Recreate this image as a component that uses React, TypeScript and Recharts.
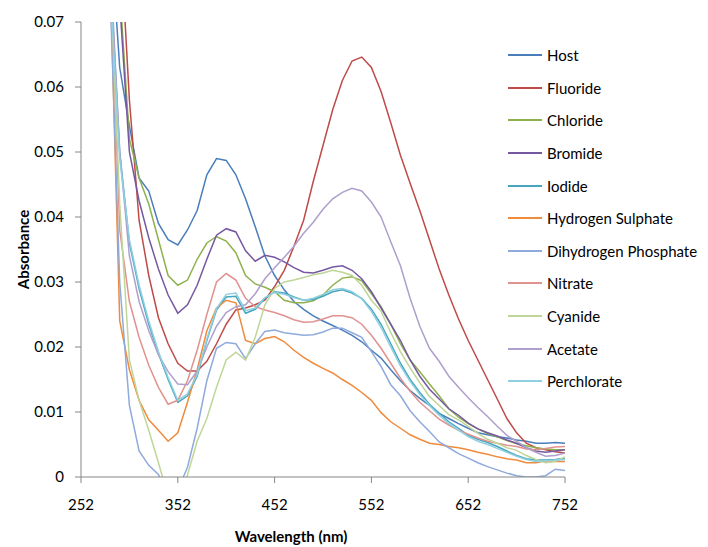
import React from "react";
import { LineChart, Line, XAxis, YAxis, Label } from "recharts";

const wavelengths = [
  272, 282, 292, 302, 312, 322, 332, 342, 352, 362, 372, 382, 392, 402, 412, 422, 432, 442, 452, 462, 472, 482, 492,
  502, 512, 522, 532, 542, 552, 562, 572, 582, 592, 602, 612, 622, 632, 642, 652, 662, 672, 682, 692, 702, 712, 722,
  732, 742, 752,
];

const host = [
  0.11, 0.085, 0.063, 0.054, 0.046, 0.044, 0.039, 0.0365, 0.0357, 0.038, 0.041, 0.0465, 0.049, 0.0487, 0.0465, 0.0428,
  0.0385, 0.034, 0.031, 0.0288, 0.027, 0.0258, 0.0248, 0.024, 0.0233, 0.0226, 0.0218, 0.0208, 0.0195, 0.0183, 0.0165,
  0.0148, 0.0133, 0.0121, 0.011, 0.0098, 0.009, 0.0082, 0.0075, 0.0068, 0.0065, 0.0062, 0.006, 0.0057, 0.0055, 0.0052,
  0.0052, 0.0053, 0.0052,
];
const fluoride = [
  0.12, 0.1, 0.085, 0.058, 0.0395, 0.031, 0.0245, 0.0205, 0.0175, 0.0163, 0.0163, 0.0178, 0.0205, 0.0235, 0.0257, 0.026,
  0.0265, 0.0272, 0.0293, 0.0318, 0.0355, 0.0395, 0.0455, 0.051, 0.0565, 0.061, 0.064, 0.0646, 0.063, 0.0593, 0.0545,
  0.0495, 0.0452, 0.041, 0.0365, 0.032, 0.028, 0.0243, 0.021, 0.018, 0.015, 0.012, 0.009, 0.0068, 0.0052, 0.0045,
  0.0042, 0.0039, 0.0037,
];
const chloride = [
  0.11, 0.09, 0.075, 0.052, 0.046, 0.042, 0.0365, 0.031, 0.0295, 0.0303, 0.0335, 0.036, 0.037, 0.0363, 0.0345, 0.031,
  0.0297, 0.0292, 0.0285, 0.0272, 0.0268, 0.0268, 0.0271, 0.028, 0.0295, 0.0306, 0.0308, 0.0302, 0.0282, 0.0262,
  0.0235, 0.0205, 0.018, 0.0162, 0.0143, 0.0125, 0.0105, 0.0092, 0.0082, 0.0074, 0.0067, 0.0062, 0.0056, 0.0051,
  0.0048, 0.0045, 0.0043, 0.0042, 0.0042,
];
const bromide = [
  0.11, 0.09, 0.073, 0.05, 0.0425, 0.0368, 0.032, 0.028, 0.0252, 0.0265, 0.0295, 0.0335, 0.0372, 0.0382, 0.0377, 0.0348,
  0.0332, 0.0341, 0.0338, 0.0331, 0.0322, 0.0315, 0.0314, 0.0318, 0.0323, 0.0325, 0.0318, 0.0305, 0.0285, 0.026,
  0.0235, 0.021, 0.018, 0.0155, 0.0135, 0.012, 0.0105, 0.0095, 0.0083, 0.0074, 0.0068, 0.0063, 0.0057, 0.0052, 0.0045,
  0.004, 0.0038, 0.004, 0.0042,
];
const iodide = [
  0.1, 0.078, 0.05, 0.036, 0.029, 0.0235, 0.019, 0.015, 0.0115, 0.0125, 0.0155, 0.021, 0.0257, 0.0277, 0.0278, 0.0252,
  0.0258, 0.0275, 0.0285, 0.0283, 0.0277, 0.0272, 0.0273, 0.0278, 0.0285, 0.0288, 0.0283, 0.0275, 0.0258, 0.0235,
  0.0205, 0.0175, 0.015, 0.013, 0.0112, 0.0098, 0.0085, 0.0075, 0.0064, 0.0058, 0.0053, 0.0047, 0.004, 0.0033, 0.0028,
  0.0026, 0.0026, 0.0027, 0.0029,
];
const hydrogenSulphate = [
  0.11, 0.078, 0.024, 0.0165, 0.0118, 0.0088, 0.0072, 0.0055, 0.0068, 0.0115, 0.0165, 0.0225, 0.026, 0.0272, 0.0268,
  0.021, 0.0205, 0.0213, 0.0216, 0.0208, 0.0195, 0.0184, 0.0175, 0.0167, 0.016, 0.015, 0.0141, 0.013, 0.0118, 0.0099,
  0.0085, 0.0075, 0.0065, 0.0058, 0.0052, 0.005, 0.0047, 0.0045, 0.0042, 0.0038, 0.0035, 0.0031, 0.0028, 0.0026,
  0.0022, 0.0022, 0.0025, 0.0024, 0.0024,
];
const dihydrogenPhosphate = [
  0.1, 0.075, 0.03, 0.011, 0.004, 0.0018, 0.0004, -0.003, -0.002, 0.0015, 0.0075, 0.0148, 0.0198, 0.0207, 0.0205,
  0.0182, 0.0205, 0.0224, 0.0226, 0.0222, 0.022, 0.0218, 0.0219, 0.0223, 0.0229, 0.0229, 0.0222, 0.0215, 0.0193, 0.017,
  0.0142, 0.0125, 0.0102, 0.0085, 0.007, 0.0054, 0.0045, 0.0036, 0.0029, 0.0022, 0.0016, 0.0011, 0.0006, 0.0002, 0.0,
  0.0, 0.0002, 0.0012, 0.001,
];
const nitrate = [
  0.11, 0.08, 0.038, 0.027, 0.0215, 0.0172, 0.0138, 0.0112, 0.0118, 0.0148, 0.0195, 0.025, 0.03, 0.0313, 0.0303, 0.0275,
  0.0262, 0.0257, 0.0253, 0.0248, 0.0242, 0.0238, 0.0239, 0.0243, 0.0248, 0.0248, 0.0245, 0.0235, 0.0218, 0.0198,
  0.0175, 0.0152, 0.0132, 0.0115, 0.0102, 0.0089, 0.008, 0.0072, 0.0066, 0.006, 0.0055, 0.0052, 0.0049, 0.0047, 0.0043,
  0.0042, 0.0044, 0.0046, 0.0047,
];
const cyanide = [
  0.11, 0.078, 0.042, 0.018, 0.0118, 0.0072, 0.0022, -0.003, -0.004, 0.0003, 0.0055, 0.009, 0.0138, 0.018, 0.0192,
  0.018, 0.0215, 0.0265, 0.029, 0.03, 0.0303, 0.0307, 0.0311, 0.0314, 0.0318, 0.0315, 0.031, 0.0295, 0.0272, 0.0255,
  0.0222, 0.0193, 0.0168, 0.0145, 0.0124, 0.011, 0.0096, 0.0088, 0.0078, 0.0067, 0.0058, 0.0052, 0.0045, 0.0041,
  0.0033, 0.0027, 0.0022, 0.0024, 0.0031,
];
const acetate = [
  0.11, 0.08, 0.05, 0.034, 0.027, 0.0225, 0.0188, 0.0162, 0.0143, 0.0142, 0.0163, 0.02, 0.0232, 0.0253, 0.0262, 0.0265,
  0.0282, 0.0305, 0.0322, 0.0338, 0.0355, 0.0375, 0.0392, 0.0412, 0.0428, 0.0438, 0.0444, 0.044, 0.0423, 0.04, 0.0362,
  0.0325, 0.0275, 0.0232, 0.0198, 0.0178, 0.0155, 0.0138, 0.0122, 0.0107, 0.0093, 0.0078, 0.0064, 0.0055, 0.0045,
  0.0038, 0.0032, 0.0033, 0.0037,
];
const perchlorate = [
  0.1, 0.076, 0.049, 0.0365, 0.0295, 0.024, 0.0193, 0.0153, 0.0118, 0.0128, 0.0158, 0.0212, 0.0259, 0.0281, 0.0283,
  0.0256, 0.026, 0.0276, 0.0284, 0.0281, 0.0276, 0.0272, 0.0275, 0.0281, 0.0288, 0.029, 0.0285, 0.0274, 0.0255, 0.023,
  0.02, 0.0171, 0.0147, 0.0127, 0.011, 0.0095, 0.0082, 0.0072, 0.0062, 0.0055, 0.005, 0.0044, 0.0038, 0.0032, 0.0027,
  0.0024, 0.0025, 0.0026, 0.0027,
];

const series = [
  { key: "host", name: "Host", values: host, color: "#4A7EBB" },
  { key: "fluoride", name: "Fluoride", values: fluoride, color: "#BE4B48" },
  { key: "chloride", name: "Chloride", values: chloride, color: "#8EB14E" },
  { key: "bromide", name: "Bromide", values: bromide, color: "#7558A0" },
  { key: "iodide", name: "Iodide", values: iodide, color: "#46A6C0" },
  { key: "hso4", name: "Hydrogen Sulphate", values: hydrogenSulphate, color: "#F08A3C" },
  { key: "h2po4", name: "Dihydrogen Phosphate", values: dihydrogenPhosphate, color: "#8FAADC" },
  { key: "nitrate", name: "Nitrate", values: nitrate, color: "#E0928F" },
  { key: "cyanide", name: "Cyanide", values: cyanide, color: "#BFD697" },
  { key: "acetate", name: "Acetate", values: acetate, color: "#AE9FCC" },
  { key: "perchlorate", name: "Perchlorate", values: perchlorate, color: "#8ED0E0" },
];

const xTicks = [252, 352, 452, 552, 652, 752];
const yTicks = [0, 0.01, 0.02, 0.03, 0.04, 0.05, 0.06, 0.07];

const data = wavelengths.map((w, i) => {
  const row: Record<string, number> = { w };
  series.forEach((s) => (row[s.key] = s.values[i]));
  return row;
});

const font = "Lato, 'Open Sans', sans-serif";
const axisGrey = "#868686";

export default function App() {
  return (
    <div style={{ position: "relative", width: 700, height: 539 }}>
      <LineChart width={700} height={539} data={data} margin={{ top: 14, right: 143, bottom: 0, left: 0 }}>
        <XAxis
          dataKey="w"
          type="number"
          domain={[252, 752]}
          ticks={xTicks}
          allowDataOverflow
          stroke={axisGrey}
          tickLine={{ stroke: axisGrey }}
          tickSize={6}
          tick={{ fill: "#000", fontSize: 15, fontFamily: font, dy: 14 }}
          height={70}
        >
          <Label
            value="Wavelength (nm)"
            position="insideBottom"
            dx={-32}
            offset={5}
            style={{ fontFamily: font, fontSize: 15, fontWeight: 700, fill: "#000" }}
          />
        </XAxis>
        <YAxis
          type="number"
          domain={[0, 0.07]}
          ticks={yTicks}
          allowDataOverflow
          width={73}
          stroke={axisGrey}
          tickLine={{ stroke: axisGrey }}
          tickSize={6}
          tickFormatter={(v: number) => (v === 0 ? "0" : v.toFixed(2))}
          tick={{ fill: "#000", fontSize: 15, fontFamily: font, dx: -9 }}
        >
          <Label
            value="Absorbance"
            angle={-90}
            position="insideLeft"
            offset={16}
            style={{ fontFamily: font, fontSize: 15, fontWeight: 700, fill: "#000", textAnchor: "middle" }}
          />
        </YAxis>
        {series.map((s) => (
          <Line
            key={s.key}
            dataKey={s.key}
            name={s.name}
            stroke={s.color}
            strokeWidth={1.5}
            dot={false}
            activeDot={false}
            type="linear"
            isAnimationActive={false}
          />
        ))}
      </LineChart>
      <div
        style={{
          position: "absolute",
          left: 500,
          top: 31,
          fontFamily: font,
          fontSize: 15,
          color: "#000",
        }}
      >
        {series.map((s) => (
          <div key={s.key} style={{ display: "flex", alignItems: "center", height: 32.6 }}>
            <span style={{ display: "inline-block", width: 34, height: 2, background: s.color, marginRight: 5 }} />
            <span style={{ whiteSpace: "nowrap" }}>{s.name}</span>
          </div>
        ))}
      </div>
    </div>
  );
}
